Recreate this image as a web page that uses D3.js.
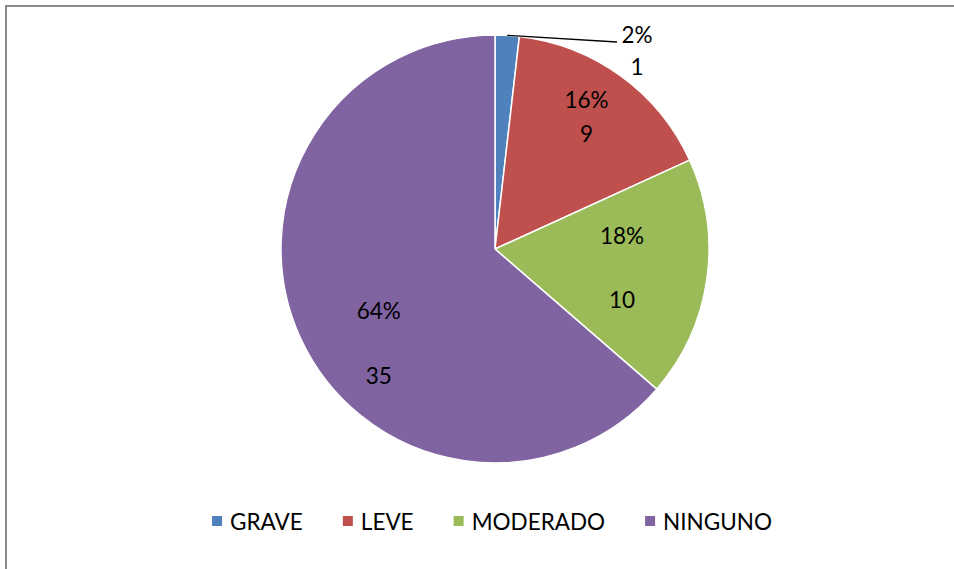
<!DOCTYPE html>
<html><head><meta charset="utf-8">
<script src="https://cdn.jsdelivr.net/npm/d3@7"></script>
<style>
html,body{margin:0;padding:0;background:#fff;}
svg{display:block;}
text{font-family:Lato,"Open Sans",sans-serif;fill:#000;}
</style></head>
<body>
<svg id="chart" width="954" height="569"></svg>
<script>
const categories = ["GRAVE", "LEVE", "MODERADO", "NINGUNO"];
const values = [1, 9, 10, 35];
const percentLabels = ["2%", "16%", "18%", "64%"];
const colors = ["#4F81BD", "#C0504D", "#9BBB59", "#8064A2"];

const W = 954, H = 569;
const svg = d3.select("#chart");
const fontSize = 22.5;

// outer frame
svg.append("rect").attr("x", 6).attr("y", 6).attr("width", 960).attr("height", 600)
  .attr("fill", "none").attr("stroke", "#898989").attr("stroke-width", 2);

const cx = 495, cy = 249, r = 214;
const data = categories.map((c, i) => ({cat: c, value: values[i], pct: percentLabels[i], color: colors[i]}));
const pie = d3.pie().value(d => d.value).sort(null);
const arcs = pie(data);
const arc = d3.arc().innerRadius(0).outerRadius(r);

const g = svg.append("g").attr("transform", `translate(${cx},${cy})`);
g.selectAll("path").data(arcs).join("path")
  .attr("d", arc).attr("fill", d => d.data.color)
  .attr("stroke", "#fff").attr("stroke-width", 1.5).attr("stroke-linejoin", "round");

// label placement (radius fraction, nudges, line gap)
const labelR = [1.0, 0.76, 0.60, 0.70];
const labelNudge = [[0, 0], [-4, -1], [0, 0], [20, 32]];
const lineGap = [32, 34, 64, 65];

arcs.forEach((a, i) => {
  const mid = (a.startAngle + a.endAngle) / 2;
  if (i === 0) {
    // outside label with leader line
    const edge = [r * Math.sin(mid), -r * Math.cos(mid)];
    const lx = 142, ly = -207;
    g.append("line").attr("x1", edge[0]).attr("y1", edge[1])
      .attr("x2", lx - 20).attr("y2", ly)
      .attr("stroke", "#000").attr("stroke-width", 1.3);
    g.append("text").attr("x", lx).attr("y", ly - 8).attr("text-anchor", "middle")
      .attr("dominant-baseline", "central").style("font-size", fontSize + "px").text(a.data.pct);
    g.append("text").attr("x", lx).attr("y", ly - 8 + lineGap[i]).attr("text-anchor", "middle")
      .attr("dominant-baseline", "central").style("font-size", fontSize + "px").text(a.data.value);
    return;
  }
  const R = r * labelR[i];
  const x = R * Math.sin(mid) + labelNudge[i][0];
  const y = -R * Math.cos(mid) + labelNudge[i][1];
  g.append("text").attr("x", x).attr("y", y - lineGap[i] / 2).attr("text-anchor", "middle")
    .attr("dominant-baseline", "central").style("font-size", fontSize + "px").text(a.data.pct);
  g.append("text").attr("x", x).attr("y", y + lineGap[i] / 2).attr("text-anchor", "middle")
    .attr("dominant-baseline", "central").style("font-size", fontSize + "px").text(a.data.value);
});

// legend
const legend = svg.append("g");
let xpos = 0;
data.forEach((d, i) => {
  const it = legend.append("g");
  it.append("rect").attr("x", 0).attr("y", -5).attr("width", 10).attr("height", 10).attr("fill", d.color);
  const t = it.append("text").attr("x", 18).attr("y", 0).attr("dominant-baseline", "central")
    .style("font-size", fontSize + "px").text(d.cat);
  const w = t.node().getComputedTextLength();
  it.attr("transform", `translate(${xpos},0)`);
  xpos += 18 + w + 40;
});
const total = xpos - 40;
legend.attr("transform", `translate(${492 - total / 2},521)`);
</script>
</body></html>
